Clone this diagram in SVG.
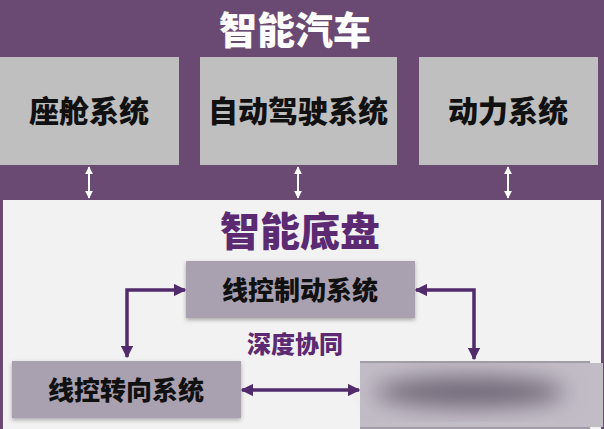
<svg xmlns="http://www.w3.org/2000/svg" width="604" height="429" viewBox="0 0 604 429">
<defs>
<style>
.t{font-family:"Noto Sans CJK SC","Noto Sans",sans-serif;font-weight:900;text-anchor:middle}
.top{fill:#bfbfbf}
.low{fill:#aaa1b0}
.wa{stroke:#ffffff;stroke-width:2;fill:none}
.pa{stroke:#512b6b;stroke-width:3.5;fill:none}
</style>
<marker id="wh" viewBox="0 0 10 10" refX="9" refY="5" markerWidth="4" markerHeight="4" orient="auto-start-reverse"><path d="M0,0L10,5L0,10z" fill="#ffffff"/></marker>
<marker id="ph" viewBox="0 0 10 10" refX="9" refY="5" markerWidth="3.6" markerHeight="3.6" orient="auto-start-reverse"><path d="M0,0L10,5L0,10z" fill="#512b6b"/></marker>
<filter id="sh" x="-10%" y="-20%" width="120%" height="150%"><feDropShadow dx="0" dy="2" stdDeviation="2" flood-color="#000" flood-opacity="0.3"/></filter>
<filter id="bl" x="-50%" y="-50%" width="200%" height="200%"><feGaussianBlur stdDeviation="11"/></filter>
</defs>
<rect width="604" height="429" fill="#6a4a72"/>
<rect x="3" y="200" width="598" height="229" fill="#f2f2f2"/>
<text class="t" x="295" y="44" font-size="38" fill="#ffffff">智能汽车</text>
<g id="cockpit"><rect class="top" x="0" y="57" width="179" height="108"/><text class="t" x="89" y="122" font-size="30" fill="#111">座舱系统</text></g>
<g id="autodrive"><rect class="top" x="200" y="57" width="197" height="108"/><text class="t" x="298" y="122" font-size="30" fill="#111">自动驾驶系统</text></g>
<g id="power"><rect class="top" x="419" y="57" width="179" height="108"/><text class="t" x="508" y="122" font-size="30" fill="#111">动力系统</text></g>
<text class="t" x="300" y="246" font-size="40" fill="#5b2a72">智能底盘</text>
<g id="brake"><rect class="low" x="186" y="261" width="229" height="57" filter="url(#sh)"/><text class="t" x="300" y="300" font-size="26" fill="#111">线控制动系统</text></g>
<text class="t" x="295" y="353" font-size="24" fill="#5b2a72">深度协同</text>
<g id="steer"><rect class="low" x="12" y="361" width="229" height="57" filter="url(#sh)"/><text class="t" x="126" y="400" font-size="26" fill="#111">线控转向系统</text></g>
<g id="hidden"><rect x="360" y="361" width="230" height="68" fill="#a29ba8"/><rect x="360" y="363" width="243" height="64" fill="#c2bcc6"/><ellipse cx="470" cy="392" rx="95" ry="15" fill="#6f6676" filter="url(#bl)"/></g>
<g id="connectors">
<line class="wa" x1="89" y1="167" x2="89" y2="198" marker-start="url(#wh)" marker-end="url(#wh)"/>
<line class="wa" x1="298" y1="167" x2="298" y2="198" marker-start="url(#wh)" marker-end="url(#wh)"/>
<line class="wa" x1="508" y1="167" x2="508" y2="198" marker-start="url(#wh)" marker-end="url(#wh)"/>
<path class="pa" d="M127,357V290H185" marker-start="url(#ph)" marker-end="url(#ph)"/>
<path class="pa" d="M416,290H474V359" marker-start="url(#ph)" marker-end="url(#ph)"/>
<line class="pa" x1="242" y1="390" x2="359" y2="390" marker-start="url(#ph)" marker-end="url(#ph)"/>
</g>
</svg>
